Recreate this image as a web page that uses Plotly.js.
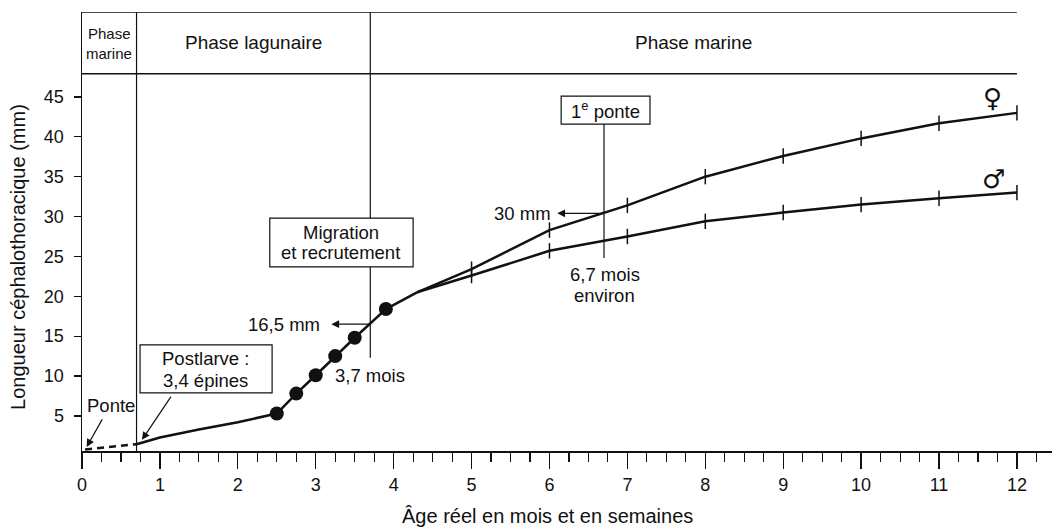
<!DOCTYPE html>
<html><head><meta charset="utf-8">
<script src="https://cdn.plot.ly/plotly-3.0.1.min.js"></script>
<style>html,body{margin:0;padding:0;background:#fff}#c{width:1052px;height:530px}</style>
</head><body><div id="c"></div>
<script>
// ---- data ----
const larvaX = [0.04, 0.7];
const larvaY = [0.8, 1.45];
const juvX = [0.7, 1, 1.5, 2, 2.5];
const juvY = [1.45, 2.3, 3.3, 4.2, 5.3];
const dotX = [2.5, 2.75, 3, 3.25, 3.5, 3.9];
const dotY = [5.3, 7.8, 10.1, 12.5, 14.8, 18.4];
const joinX = [3.9, 4.3];
const joinY = [18.4, 20.5];
const femX = [4.3, 5, 6, 7, 8, 9, 10, 11, 12];
const femY = [20.5, 23.4, 28.3, 31.4, 35.0, 37.6, 39.8, 41.7, 43.0];
const maleX = [4.3, 5, 6, 7, 8, 9, 10, 11, 12];
const maleY = [20.5, 22.6, 25.7, 27.5, 29.4, 30.5, 31.5, 32.3, 33.0];
const yTicks = [5, 10, 15, 20, 25, 30, 35, 40, 45];
const xTicks = [0, 1, 2, 3, 4, 5, 6, 7, 8, 9, 10, 11, 12];
const phaseBounds = [0.7, 3.7];
const recruitAge = 3.7, recruitLen = 16.5;
const spawnAge = 6.7, spawnLen = 30.4;

const F = '"Liberation Sans", Arial, sans-serif';
const K = '#111';
const traces = [
  {x: larvaX, y: larvaY, mode: 'lines', line: {color: K, width: 2.5, dash: '7px,5px'}},
  {x: juvX, y: juvY, mode: 'lines', line: {color: K, width: 2.5}},
  {x: dotX, y: dotY, mode: 'lines+markers', line: {color: K, width: 2.5}, marker: {color: K, size: 14}},
  {x: joinX, y: joinY, mode: 'lines', line: {color: K, width: 2.5}},
  {x: femX, y: femY, mode: 'lines', line: {color: K, width: 2.5}},
  {x: maleX, y: maleY, mode: 'lines', line: {color: K, width: 2.5}},
  {x: femX.slice(1), y: femY.slice(1), mode: 'markers', marker: {symbol: 'line-ns-open', size: 11, color: K, line: {color: K, width: 1.5}}},
  {x: maleX.slice(1), y: maleY.slice(1), mode: 'markers', marker: {symbol: 'line-ns-open', size: 11, color: K, line: {color: K, width: 1.5}}}
];

const yTop = 55.65, yHead = 47.9, yBot = 0.6;
const shapes = [
  {type: 'line', x0: 0, x1: 12, y0: yTop, y1: yTop, line: {color: K, width: 1.5}},
  {type: 'line', x0: 0, x1: 12, y0: yHead, y1: yHead, line: {color: K, width: 1.5}},
  {type: 'line', x0: phaseBounds[0], x1: phaseBounds[0], y0: yBot, y1: yTop, line: {color: K, width: 1.2}},
  {type: 'line', x0: phaseBounds[1], x1: phaseBounds[1], y0: 12.3, y1: yTop, line: {color: K, width: 1.2}},
  {type: 'line', x0: spawnAge, x1: spawnAge, y0: 24.8, y1: 41.6, line: {color: K, width: 1.2}},
  {type: 'rect', x0: 2.41, x1: 4.25, y0: 23.7, y1: 29.8, fillcolor: '#fff', line: {color: K, width: 1.2}, layer: 'above'},
  {type: 'rect', x0: 0.745, x1: 2.44, y0: 7.9, y1: 13.9, fillcolor: '#fff', line: {color: K, width: 1.2}, layer: 'above'},
  {type: 'rect', x0: 6.15, x1: 7.29, y0: 41.6, y1: 45.1, fillcolor: '#fff', line: {color: K, width: 1.2}, layer: 'above'}
];

function txt(x, y, text, size, extra) {
  return Object.assign({x: x, y: y, xref: 'x', yref: 'y', text: text, showarrow: false,
    font: {family: F, size: size, color: K}}, extra || {});
}
function arrow(x, y, ax, ay) {
  return {x: x, y: y, ax: ax, ay: ay, xref: 'x', yref: 'y', axref: 'x', ayref: 'y', text: '',
    showarrow: true, arrowhead: 2, arrowsize: 1.3, arrowwidth: 1.2, arrowcolor: K};
}
const annotations = [
  txt(0.35, 53.0, 'Phase', 15),
  txt(0.35, 50.5, 'marine', 15),
  txt(2.2, 51.8, 'Phase lagunaire', 19),
  txt(7.85, 51.8, 'Phase marine', 19),
  txt(3.32, 27.95, 'Migration', 18.5),
  txt(3.32, 25.5, 'et recrutement', 18.5),
  txt(1.58, 12.2, 'Postlarve :', 18.5),
  txt(1.58, 9.5, '3,4 épines', 18.5),
  txt(6.72, 43.4, '1<sup>e</sup> ponte', 18.5),
  txt(0.37, 6.25, 'Ponte', 18.5),
  arrow(0.06, 1.1, 0.27, 4.75),
  arrow(0.77, 2.0, 1.155, 7.6),
  txt(3.08, recruitLen, '16,5 mm', 18.5, {xanchor: 'right'}),
  arrow(3.2, recruitLen, recruitAge, recruitLen),
  txt(3.22, 10.1, '3,7 mois', 18.5, {xanchor: 'left'}),
  txt(6.04, spawnLen, '30 mm', 18.5, {xanchor: 'right'}),
  arrow(6.1, spawnLen, spawnAge, spawnLen),
  txt(6.71, 22.75, '6,7 mois', 18.5),
  txt(6.71, 20.1, 'environ', 18.5),
  txt(11.68, 44.9, '♀', 26, {font: {family: 'DejaVu Sans', size: 26, color: K}}),
  txt(11.7, 34.7, '♂', 26, {font: {family: 'DejaVu Sans', size: 26, color: K}}),
  {xref: 'paper', yref: 'paper', x: -0.066, y: 0.442, xanchor: 'center', yanchor: 'middle',
   text: 'Longueur céphalothoracique (mm)', textangle: -90,
   showarrow: false, font: {family: F, size: 20, color: K}},
  {xref: 'paper', yref: 'paper', x: 0.48, y: -0.148, xanchor: 'center', yanchor: 'middle',
   text: 'Âge réel en mois et en semaines',
   showarrow: false, font: {family: F, size: 20, color: K}}
];

const layout = {
  width: 1052, height: 530,
  margin: {l: 82, r: 0, t: 12, b: 79},
  paper_bgcolor: '#fff', plot_bgcolor: '#fff',
  showlegend: false,
  font: {family: F, size: 18, color: K},
  xaxis: {range: [0, 12.45], showgrid: false, zeroline: false, showline: true, linecolor: K, linewidth: 1.5,
    tickmode: 'array', tickvals: xTicks, ticks: 'outside', ticklen: 16, tickwidth: 1.3, tickcolor: K,
    ticklabelstandoff: 1, tickfont: {family: F, size: 18, color: K},
    minor: {dtick: 0.25, tick0: 0, ticks: 'outside', ticklen: 9, tickwidth: 1.1, tickcolor: K, showgrid: false}},
  yaxis: {range: [yBot, yTop], showgrid: false, zeroline: false, showline: true, linecolor: K, linewidth: 1.5,
    tickmode: 'array', tickvals: yTicks, ticks: 'outside', ticklen: 7, tickwidth: 1.3, tickcolor: K,
    ticklabelstandoff: 6, tickfont: {family: F, size: 18, color: K}},
  shapes: shapes,
  annotations: annotations
};
Plotly.newPlot('c', traces, layout, {staticPlot: true});
</script></body></html>
